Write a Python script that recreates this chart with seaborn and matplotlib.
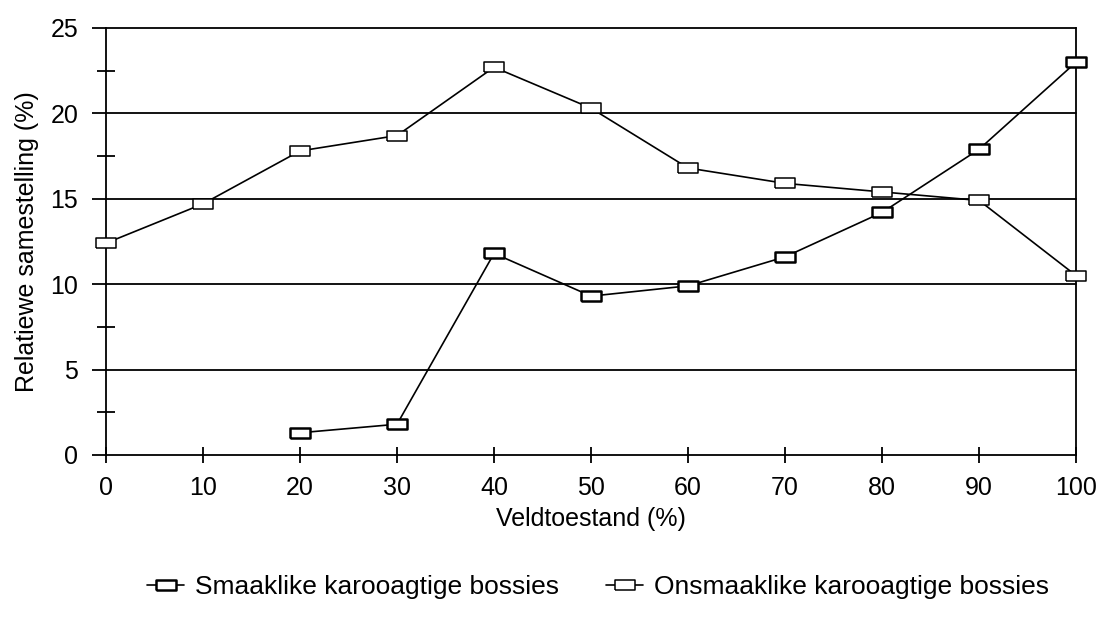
import numpy as np
import pandas as pd
import matplotlib
matplotlib.use("Agg")
import matplotlib.pyplot as plt
from matplotlib.ticker import MultipleLocator
import seaborn as sns

# Veldtoestand (%) en relatiewe samestelling (%) van die twee groepe bossies
veldtoestand = [0, 10, 20, 30, 40, 50, 60, 70, 80, 90, 100]
smaaklike = [np.nan, np.nan, 1.3, 1.8, 11.8, 9.3, 9.9, 11.6, 14.2, 17.9, 23.0]
onsmaaklike = [12.4, 14.7, 17.8, 18.7, 22.7, 20.3, 16.8, 15.9, 15.4, 14.9, 10.5]
reeks_name = ["Smaaklike karooagtige bossies", "Onsmaaklike karooagtige bossies"]
x_ticks = [0, 10, 20, 30, 40, 50, 60, 70, 80, 90, 100]
y_ticks = [0, 5, 10, 15, 20, 25]

sns.set_style("white")
plt.rcParams["font.family"] = ["Liberation Sans", "DejaVu Sans"]
plt.rcParams.update({"text.color": "black", "axes.labelcolor": "black",
                     "xtick.color": "black", "ytick.color": "black"})

fig = plt.figure(figsize=(10.97, 6.35), dpi=100)
ax = fig.add_axes([0.0966, 0.2835, 0.8844, 0.6725])

# flat rectangular box marker
box = [(-1, -0.55), (1, -0.55), (1, 0.55), (-1, 0.55), (-1, -0.55)]

df = pd.DataFrame({"x": veldtoestand, "a": smaaklike, "b": onsmaaklike})
sns.lineplot(data=df, x="x", y="a", ax=ax, color="black", lw=1.2,
             marker=box, markersize=14, markerfacecolor="white",
             markeredgecolor="black", markeredgewidth=1.8,
             label=reeks_name[0], zorder=4, clip_on=False)
sns.lineplot(data=df, x="x", y="b", ax=ax, color="black", lw=1.2,
             marker=box, markersize=14, markerfacecolor="white",
             markeredgecolor="black", markeredgewidth=1.1,
             label=reeks_name[1], zorder=4, clip_on=False)

ax.set_xlim(0, 100)
ax.set_ylim(0, 25)
ax.set_xticks(x_ticks)
ax.set_yticks(y_ticks)
ax.yaxis.set_minor_locator(MultipleLocator(2.5))

for y in y_ticks[1:]:
    ax.axhline(y, color="black", lw=1.3, zorder=1, clip_on=False)

for s in ["left", "bottom", "right"]:
    ax.spines[s].set_visible(True)
    ax.spines[s].set_color("black")
    ax.spines[s].set_linewidth(1.3)
ax.spines["top"].set_visible(False)

ax.tick_params(axis="y", which="major", direction="out", length=10, width=1.3,
               labelsize=18, pad=10, left=True)
ax.tick_params(axis="y", which="minor", direction="inout", length=13, width=1.3,
               left=True)
ax.tick_params(axis="x", which="major", direction="inout", length=12, width=1.3,
               labelsize=18, pad=9, bottom=True)

ax.set_xlabel("Veldtoestand (%)", fontsize=18, labelpad=5)
ax.set_ylabel("Relatiewe samestelling (%)", fontsize=18, labelpad=8)

ax.legend(loc="center", bbox_to_anchor=(0.545, 0.075), bbox_transform=fig.transFigure,
          ncol=2, frameon=False, fontsize=19, handlelength=1.4, columnspacing=1.8,
          handletextpad=0.4)

fig.savefig("out.png", dpi=100)
